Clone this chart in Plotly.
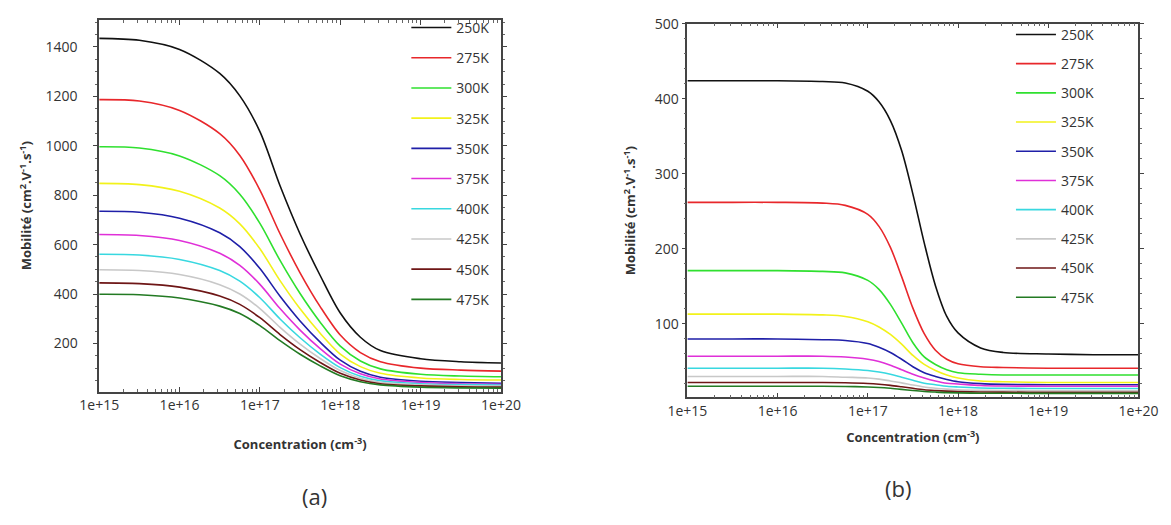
import plotly.graph_objects as go

# ---------------- data ----------------
temps = ["250K", "275K", "300K", "325K", "350K", "375K", "400K", "425K", "450K", "475K"]
colors = ["#111111", "#e8272b", "#2fe02f", "#f2f21a", "#1f1fa8", "#e030d8",
          "#38d8e0", "#c8c8c8", "#6e1616", "#237a23"]

# panel (a) concentrations (cm^-3)
conc_a = [1e15, 3.16e15, 1e16, 3.16e16, 5.62e16, 1e17, 1.78e17, 3.16e17, 5.62e17,
          1e18, 1.78e18, 3.16e18, 1e19, 3.16e19, 1e20]
mob_a_250 = [1435, 1427, 1390, 1293, 1202, 1057, 838, 643, 475, 323, 225, 171, 138, 126, 121]
mob_a_275 = [1187, 1181, 1143, 1049, 961, 821, 644, 486, 349, 234, 163, 126, 100, 92, 88]
mob_a_300 = [996, 991, 959, 879, 804, 686, 536, 402, 286, 189, 129, 97, 75, 68, 65]
mob_a_325 = [848, 843, 816, 748, 684, 583, 454, 340, 241, 157, 106, 79, 60, 54, 52]
mob_a_350 = [735, 731, 707, 648, 592, 503, 391, 291, 205, 132, 87, 63, 47, 42, 39]
mob_a_375 = [641, 637, 617, 565, 516, 439, 341, 254, 179, 116, 77, 56, 42, 37, 35]
mob_a_400 = [561, 558, 540, 495, 452, 385, 299, 223, 157, 102, 67, 49, 37, 33, 31]
mob_a_425 = [498, 495, 479, 438, 400, 341, 265, 197, 139, 90, 59, 43, 32, 28, 27]
mob_a_450 = [445, 442, 428, 392, 358, 304, 236, 175, 123, 79, 52, 37, 28, 24, 23]
mob_a_475 = [399, 397, 384, 351, 321, 272, 211, 156, 109, 69, 45, 32, 23, 20, 19]

# panel (b) concentrations (cm^-3)
conc_b = [1e15, 3.16e15, 1e16, 3.16e16, 5.62e16, 1e17, 1.33e17, 1.78e17, 2.37e17, 3.16e17,
          4.22e17, 5.62e17, 7.5e17, 1e18, 1.78e18, 3.16e18, 1e19, 3.16e19, 1e20]
mob_b_250 = [424, 424, 424, 423, 421, 410, 396, 371, 331, 273, 208, 151, 110, 88, 68, 62, 60, 59, 59]
mob_b_275 = [262, 262, 262, 261, 258, 246, 230, 202, 163, 121, 87, 65, 53, 47, 43, 42, 41, 41, 41]
mob_b_300 = [171, 171, 171, 170, 168, 158, 146, 126, 101, 75, 56, 46, 39, 35, 33, 32, 32, 32, 32]
mob_b_325 = [113, 113, 113, 112, 110, 103, 96, 86, 73, 58, 46, 38, 32, 28, 24, 23, 22, 22, 22]
mob_b_350 = [80, 80, 80, 79, 78, 74, 69, 62, 53, 43, 35, 30, 26, 23, 20.5, 19.5, 19, 19, 19]
mob_b_375 = [57, 57, 57, 57, 56, 53, 50, 45, 39, 33, 28, 24, 21, 20, 18, 17.3, 17, 17, 17]
mob_b_400 = [41, 41, 41, 41, 40, 38, 36, 33, 29, 25, 21, 19, 17, 16, 14.7, 14.2, 14, 14, 14]
mob_b_425 = [30, 30, 30, 30, 29, 28, 26.5, 24, 21.5, 18.6, 16, 14.4, 13.1, 12.2, 11.5, 11.2, 11, 11, 11]
mob_b_450 = [22, 22, 22, 22, 21.6, 20.6, 19.6, 18.1, 16.2, 14.2, 12.4, 11.3, 10.4, 9.8, 9.3, 9.1, 9, 9, 9]
mob_b_475 = [17, 17, 17, 16.9, 16.7, 16, 15.3, 14.2, 12.8, 11.3, 10, 9.2, 8.5, 8.1, 7.7, 7.6, 7.5, 7.5, 7.5]

x_tickvals = [1e15, 1e16, 1e17, 1e18, 1e19, 1e20]
x_ticktext = ["1e+15", "1e+16", "1e+17", "1e+18", "1e+19", "1e+20"]
ya_ticks = [200, 400, 600, 800, 1000, 1200, 1400]
yb_ticks = [100, 200, 300, 400, 500]

series_a = [mob_a_250, mob_a_275, mob_a_300, mob_a_325, mob_a_350,
            mob_a_375, mob_a_400, mob_a_425, mob_a_450, mob_a_475]
series_b = [mob_b_250, mob_b_275, mob_b_300, mob_b_325, mob_b_350,
            mob_b_375, mob_b_400, mob_b_425, mob_b_450, mob_b_475]

# ---------------- figure ----------------
W, H = 1171, 525
FONT = "Open Sans"
TXT = "#333333"
fig = go.Figure()

for name, col, ys in zip(temps, colors, series_a):
    fig.add_trace(go.Scatter(x=conc_a, y=ys, name=name, mode="lines",
                             line=dict(color=col, width=1.6, shape="spline", smoothing=0.9),
                             xaxis="x", yaxis="y", legend="legend",
                             legendgroup="a" + name))
for name, col, ys in zip(temps, colors, series_b):
    fig.add_trace(go.Scatter(x=conc_b, y=ys, name=name, mode="lines",
                             line=dict(color=col, width=1.6, shape="spline", smoothing=0.9),
                             xaxis="x2", yaxis="y2", legend="legend2",
                             legendgroup="b" + name))

def px_x(p):
    return p / W

def px_y(p):
    return 1 - p / H

xa_dom = [px_x(82), px_x(498)]
xb_dom = [px_x(691), px_x(1158)]
ya_dom = [px_y(389), px_y(10)]
yb_dom = [px_y(395), px_y(14)]

common_x = dict(type="log", tickvals=x_tickvals, ticktext=x_ticktext,
                showline=True, linecolor="#444", linewidth=1.5, mirror="allticks",
                ticks="inside", ticklen=5, tickcolor="#444", showgrid=False, zeroline=False,
                tickfont=dict(family=FONT, size=14, color=TXT),
                minor=dict(dtick="D1", ticks="inside", ticklen=3, tickcolor="#666", showgrid=False))
common_y = dict(showline=True, linecolor="#444", linewidth=1.5, mirror="allticks",
                ticks="outside", ticklen=4, tickcolor="#444", showgrid=False, zeroline=False,
                tickfont=dict(family=FONT, size=14, color=TXT))

def xtitle(standoff):
    return dict(text="<b>Concentration (cm<sup>-3</sup>)</b>",
                font=dict(family=FONT, size=13, color=TXT), standoff=standoff)

def ytitle(standoff):
    return dict(text="<b>Mobilité (cm<sup>2</sup>.V<sup>-1</sup>.s<sup>-1</sup>)</b>",
                font=dict(family=FONT, size=13, color=TXT), standoff=standoff)

fig.update_layout(
    width=W, height=H, margin=dict(l=0, r=0, t=0, b=0),
    paper_bgcolor="white", plot_bgcolor="white",
    font=dict(family=FONT, color=TXT),
    xaxis=dict(domain=xa_dom, anchor="y", range=[15, 20], title=xtitle(27), **common_x),
    yaxis=dict(domain=ya_dom, anchor="x", range=[5, 1510], tickvals=ya_ticks,
               ticklabelstandoff=13,
               minor=dict(dtick=50, ticks="outside", ticklen=2, tickcolor="#666"),
               title=ytitle(11), **common_y),
    xaxis2=dict(domain=xb_dom, anchor="y2", range=[15, 20], title=xtitle(14), **common_x),
    yaxis2=dict(domain=yb_dom, anchor="x2", range=[2, 500], tickvals=yb_ticks,
                minor=dict(dtick=20, ticks="outside", ticklen=2, tickcolor="#666"),
                title=ytitle(16), **common_y),
    legend=dict(x=px_x(400), y=px_y(2), xanchor="left", yanchor="top",
                bgcolor="rgba(0,0,0,0)", font=dict(family=FONT, size=14, color=TXT),
                tracegroupgap=9, itemwidth=40),
    legend2=dict(x=px_x(1026), y=px_y(9), xanchor="left", yanchor="top",
                 bgcolor="rgba(0,0,0,0)", font=dict(family=FONT, size=14, color=TXT),
                 tracegroupgap=8, itemwidth=40),
    annotations=[
        dict(text="(a)", x=(xa_dom[0] + xa_dom[1]) / 2, y=px_y(513), xref="paper", yref="paper",
             showarrow=False, font=dict(family=FONT, size=22, color=TXT)),
        dict(text="(b)", x=(xb_dom[0] + xb_dom[1]) / 2, y=px_y(505), xref="paper", yref="paper",
             showarrow=False, font=dict(family=FONT, size=22, color=TXT)),
    ],
    showlegend=True,
)

fig.write_html("out.html")
